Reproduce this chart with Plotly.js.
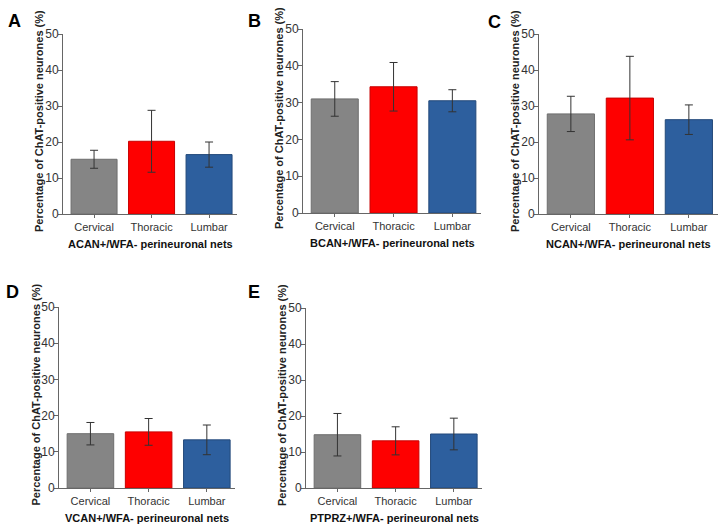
<!DOCTYPE html>
<html>
<head>
<meta charset="utf-8">
<script src="https://cdn.plot.ly/plotly-3.0.1.min.js"></script>
<style>
  html, body { margin: 0; padding: 0; background: #fff; }
  #chart { width: 728px; height: 530px; }
</style>
</head>
<body>
<div id="chart"></div>
<script>
// data (mean +/- error)
var regions = ["Cervical", "Thoracic", "Lumbar"];

var acanMean = [15.2, 20.2, 16.5];
var acanErr  = [2.5, 8.6, 3.5];
var bcanMean = [31.0, 34.3, 30.5];
var bcanErr  = [4.7, 6.6, 3.0];
var ncanMean = [27.8, 32.2, 26.2];
var ncanErr  = [4.9, 11.6, 4.1];
var vcanMean = [15.0, 15.5, 13.3];
var vcanErr  = [3.1, 3.7, 4.1];
var ptprzMean = [14.8, 13.1, 15.0];
var ptprzErr  = [5.9, 3.9, 4.4];

var netLabels = ["ACAN+/WFA- perineuronal nets", "BCAN+/WFA- perineuronal nets",
  "NCAN+/WFA- perineuronal nets", "VCAN+/WFA- perineuronal nets", "PTPRZ+/WFA- perineuronal nets"];
var panelLetters = ["A", "B", "C", "D", "E"];
var yTitle = "Percentage of ChAT-positive neurones (%)";

var means = [acanMean, bcanMean, ncanMean, vcanMean, ptprzMean];
var errs = [acanErr, bcanErr, ncanErr, vcanErr, ptprzErr];

// panel placement in pixels: left axis x, unit width per category, y of 50 and 0, letter position
var W = 728, H = 530;
var panels = [
  {x0: 63,  unit: 57.5, top: 34,  bottom: 214, lx: 14,  ly: 21},
  {x0: 303, unit: 58.8, top: 29,  bottom: 213, lx: 254, ly: 21},
  {x0: 539, unit: 59.0, top: 34,  bottom: 214, lx: 494, ly: 22},
  {x0: 59,  unit: 58.2, top: 307, bottom: 488, lx: 12,  ly: 292},
  {x0: 306, unit: 58.2, top: 308, bottom: 488, lx: 254, ly: 292}
];
var xRange = [-0.54, 2.49];

var fillColors = ["#858585", "#fe0000", "#2d5f9e"];
var edgeColors = ["#6e6e6e", "#c80000", "#23497a"];

var data = [];
var layout = {
  width: W, height: H,
  margin: {l: 0, r: 0, t: 0, b: 0},
  paper_bgcolor: "#fff", plot_bgcolor: "#fff",
  showlegend: false,
  font: {family: "Liberation Sans, Arial, sans-serif", color: "#333"},
  annotations: []
};

panels.forEach(function (p, i) {
  var n = i === 0 ? "" : String(i + 1);
  var right = p.x0 + (xRange[1] - xRange[0]) * p.unit;
  data.push({
    type: "bar",
    x: regions,
    y: means[i],
    xaxis: "x" + n,
    yaxis: "y" + n,
    width: 0.8,
    marker: {color: fillColors, line: {color: edgeColors, width: 1}},
    error_y: {type: "data", array: errs[i], visible: true, color: "#333", thickness: 1, width: 4},
    hoverinfo: "x+y"
  });
  layout["xaxis" + n] = {
    domain: [p.x0 / W, right / W],
    anchor: "y" + n,
    range: xRange,
    showline: true, linecolor: "#666", linewidth: 1,
    ticks: "outside", ticklen: 3, tickcolor: "#666",
    tickfont: {size: 11, color: "#333"},
    showgrid: false, zeroline: false, fixedrange: true
  };
  layout["yaxis" + n] = {
    domain: [1 - p.bottom / H, 1 - p.top / H],
    anchor: "x" + n,
    range: [0, 50], dtick: 10,
    showline: true, linecolor: "#666", linewidth: 1,
    ticks: "outside", ticklen: 4, tickcolor: "#666",
    ticklabelstandoff: -3,
    tickfont: {size: 12, color: "#333"},
    showgrid: false, zeroline: false, fixedrange: true
  };
  // y axis title
  layout.annotations.push({
    xref: "paper", yref: "paper", xanchor: "center", yanchor: "middle",
    x: (p.x0 - 24) / W, y: 1 - ((p.top + p.bottom) / 2 - 3) / H,
    text: "<b>" + yTitle + "</b>", textangle: -90, showarrow: false,
    font: {size: 11, color: "#222"}
  });
  // x axis title
  layout.annotations.push({
    xref: "paper", yref: "paper", xanchor: "center", yanchor: "middle",
    x: (p.x0 + right) / 2 / W, y: 1 - (p.bottom + 30) / H,
    text: "<b>" + netLabels[i] + "</b>", showarrow: false,
    font: {size: 11, color: "#111"}
  });
  // panel letter
  layout.annotations.push({
    xref: "paper", yref: "paper", xanchor: "center", yanchor: "middle",
    x: p.lx / W, y: 1 - p.ly / H,
    text: "<b>" + panelLetters[i] + "</b>", showarrow: false,
    font: {size: 18, color: "#000"}
  });
});

Plotly.newPlot("chart", data, layout, {displayModeBar: false, staticPlot: true});
</script>
</body>
</html>
